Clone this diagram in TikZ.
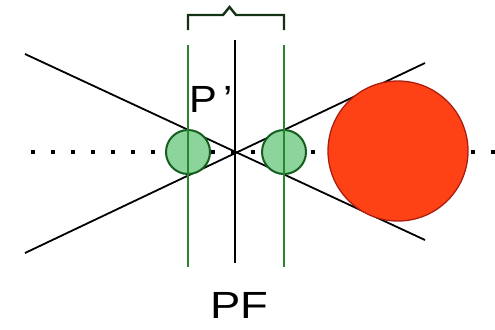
\documentclass[tikz,border=0pt]{standalone}
\usepackage{fontspec}
\setmainfont{Liberation Sans}
\definecolor{lgreen}{RGB}{140,212,156}
\definecolor{dgreen}{RGB}{20,95,30}
\definecolor{vgreen}{RGB}{40,135,45}
\definecolor{bred}{RGB}{255,66,22}
\definecolor{dred}{RGB}{170,30,15}
\definecolor{brk}{RGB}{20,50,20}
\begin{document}
\begin{tikzpicture}[x=1bp,y=-1bp,
  ray/.style={line width=1.8bp,black},
  vline/.style={line width=1.7bp,vgreen},
  lens/.style={circle,draw=dgreen,fill=lgreen,line width=2bp,minimum size=44bp,inner sep=0pt},
  sun/.style={circle,draw=dred,fill=bred,line width=1.3bp,minimum size=140bp,inner sep=0pt},
  lbl/.style={font=\fontsize{38}{42}\selectfont,transform shape,inner sep=0pt,anchor=base west}]
\useasboundingbox (0,0) rectangle (495,329);
% axis (dotted)
\coordinate (axl) at (31.25,152);
\coordinate (axr) at (495,152);
\draw[line width=3.5bp,dash pattern=on 3.5bp off 16.5bp] (axl) -- (axr);
% rays
\coordinate (r1a) at (25,54);
\coordinate (r1b) at (425,240);
\coordinate (r2a) at (25,253);
\coordinate (r2b) at (425,63);
\draw[ray] (r1a) -- (r1b);
\draw[ray] (r2a) -- (r2b);
% circles
\node[lens] (c1) at (188,152) {};
\node[lens] (c2) at (284,152) {};
\node[sun] (big) at (398,151) {};
% vertical lines
\coordinate (v1t) at (188,45); \coordinate (v1b) at (188,267);
\coordinate (v2t) at (284,45); \coordinate (v2b) at (284,267);
\coordinate (v0t) at (235,40); \coordinate (v0b) at (235,263);
\draw[vline] (v1t) -- (v1b);
\draw[vline] (v2t) -- (v2b);
\draw[ray] (v0t) -- (v0b);
% bracket
\coordinate (b1) at (188,30);
\coordinate (b2) at (284,30);
\draw[brk,line width=2.4bp,line join=miter] (b1) -- (188,15) -- (223,15) -- (229.5,7) -- (236,15) -- (284,15) -- (b2);
% labels
\node[lbl,xscale=1.1] (pp) at (189.7,112) {P\kern5bp’};
\node[lbl,xscale=1.2] (pf) at (210.4,318.5) {PF};
\end{tikzpicture}
\end{document}
